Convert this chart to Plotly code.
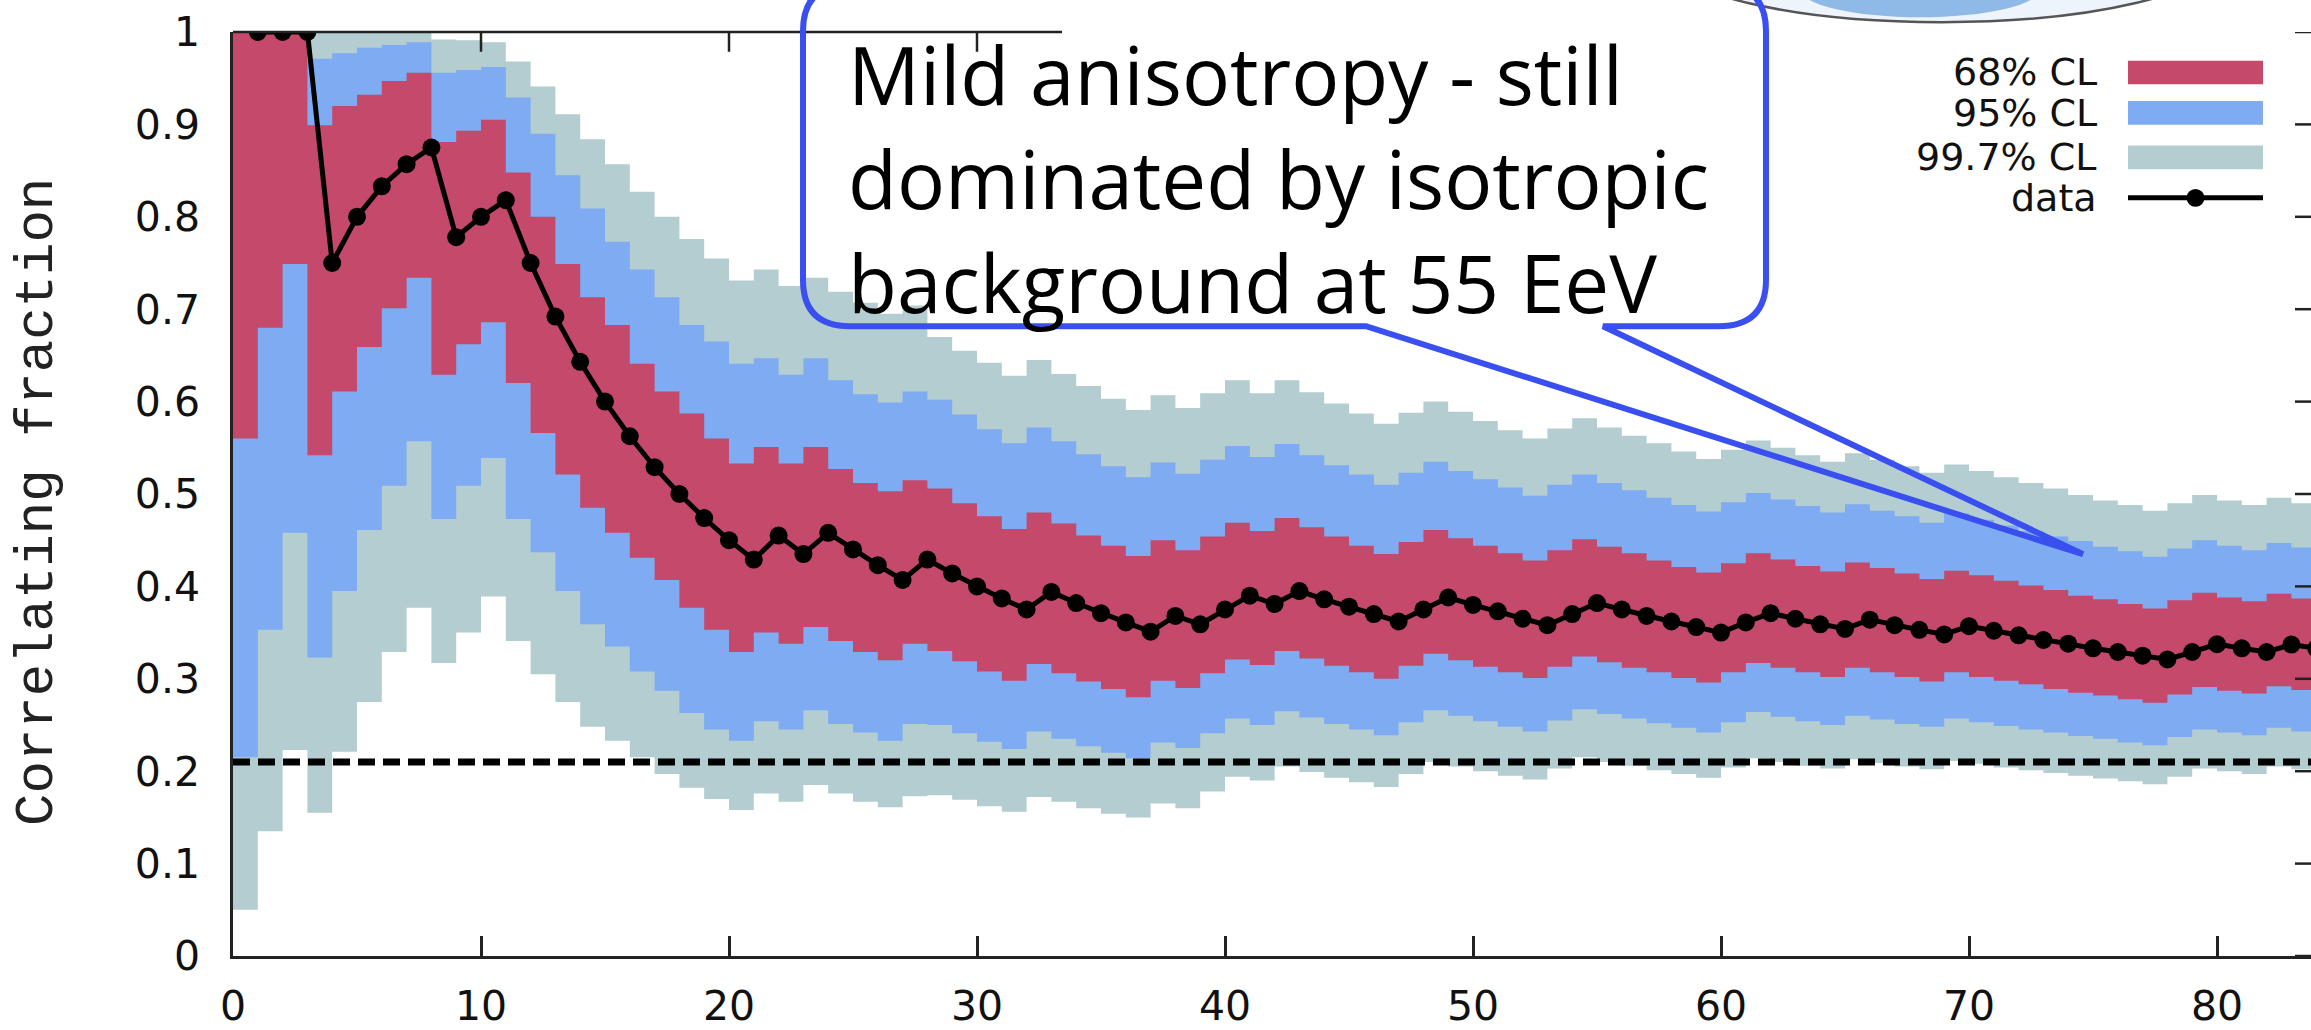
import plotly.graph_objects as go

# ---------------- data ----------------
N_EVENTS = list(range(1, 85))

DATA = [1.0, 1.0, 1.0, 0.75, 0.80, 0.833, 0.857, 0.875, 0.778, 0.80,
        0.818, 0.75, 0.692, 0.643, 0.60, 0.5625, 0.529, 0.50, 0.474, 0.45,
        0.429, 0.455, 0.435, 0.458, 0.44, 0.423, 0.407, 0.429, 0.414, 0.40,
        0.387, 0.375, 0.394, 0.382, 0.371, 0.361, 0.351, 0.368, 0.359, 0.375,
        0.39, 0.381, 0.395, 0.386, 0.378, 0.37, 0.362, 0.375, 0.388, 0.38,
        0.373, 0.365, 0.358, 0.37, 0.382, 0.375, 0.368, 0.362, 0.356, 0.35,
        0.361, 0.371, 0.365, 0.359, 0.354, 0.364, 0.358, 0.353, 0.348, 0.357,
        0.352, 0.347, 0.342, 0.338, 0.333, 0.329, 0.325, 0.321, 0.329, 0.3375,
        0.333, 0.329, 0.337, 0.333]

CL68_HI = [1.0, 1.0, 1.0, 0.899, 0.92, 0.932, 0.947, 0.956, 0.881, 0.893,
           0.905, 0.848, 0.80, 0.749, 0.713, 0.683, 0.641, 0.611, 0.587, 0.56,
           0.533, 0.551, 0.533, 0.551, 0.527, 0.512, 0.503, 0.515, 0.506, 0.490,
           0.476, 0.462, 0.480, 0.468, 0.455, 0.444, 0.433, 0.450, 0.439, 0.454,
           0.469, 0.460, 0.474, 0.464, 0.454, 0.444, 0.435, 0.448, 0.461, 0.452,
           0.444, 0.436, 0.428, 0.439, 0.451, 0.443, 0.436, 0.428, 0.421, 0.415,
           0.425, 0.436, 0.429, 0.422, 0.416, 0.426, 0.420, 0.414, 0.408, 0.417,
           0.412, 0.406, 0.401, 0.396, 0.390, 0.386, 0.381, 0.376, 0.385, 0.393,
           0.388, 0.384, 0.392, 0.387]
CL68_LO = [0.56, 0.68, 0.749, 0.542, 0.611, 0.659, 0.701, 0.734, 0.629, 0.662,
           0.686, 0.62, 0.566, 0.521, 0.485, 0.458, 0.431, 0.407, 0.377, 0.353,
           0.329, 0.35, 0.338, 0.356, 0.341, 0.329, 0.32, 0.338, 0.330, 0.319,
           0.308, 0.298, 0.316, 0.306, 0.297, 0.289, 0.280, 0.298, 0.290, 0.306,
           0.321, 0.315, 0.330, 0.322, 0.314, 0.307, 0.300, 0.314, 0.327, 0.320,
           0.313, 0.307, 0.301, 0.313, 0.324, 0.318, 0.312, 0.307, 0.301, 0.296,
           0.307, 0.317, 0.312, 0.307, 0.302, 0.312, 0.307, 0.302, 0.297, 0.307,
           0.302, 0.298, 0.294, 0.289, 0.285, 0.282, 0.278, 0.274, 0.283, 0.291,
           0.287, 0.284, 0.292, 0.288]

CL95_HI = [1.0, 1.0, 1.0, 0.971, 0.977, 0.983, 0.986, 0.989, 0.956, 0.959,
           0.962, 0.929, 0.89, 0.845, 0.809, 0.773, 0.743, 0.713, 0.683, 0.665,
           0.641, 0.647, 0.629, 0.647, 0.623, 0.608, 0.599, 0.611, 0.602, 0.586,
           0.570, 0.555, 0.572, 0.557, 0.543, 0.530, 0.518, 0.534, 0.522, 0.537,
           0.552, 0.540, 0.554, 0.542, 0.531, 0.521, 0.510, 0.523, 0.535, 0.525,
           0.516, 0.507, 0.498, 0.510, 0.521, 0.512, 0.504, 0.496, 0.488, 0.481,
           0.491, 0.501, 0.494, 0.487, 0.480, 0.489, 0.482, 0.476, 0.469, 0.479,
           0.472, 0.466, 0.460, 0.454, 0.449, 0.443, 0.438, 0.432, 0.441, 0.450,
           0.444, 0.439, 0.447, 0.442]
CL95_LO = [0.215, 0.353, 0.458, 0.323, 0.395, 0.461, 0.509, 0.557, 0.473, 0.509,
           0.539, 0.473, 0.437, 0.395, 0.359, 0.335, 0.308, 0.287, 0.263, 0.245,
           0.233, 0.254, 0.245, 0.266, 0.251, 0.242, 0.233, 0.251, 0.250, 0.241,
           0.232, 0.224, 0.243, 0.235, 0.227, 0.220, 0.214, 0.231, 0.225, 0.241,
           0.257, 0.250, 0.265, 0.258, 0.251, 0.245, 0.239, 0.253, 0.266, 0.260,
           0.254, 0.248, 0.243, 0.255, 0.267, 0.262, 0.257, 0.252, 0.247, 0.242,
           0.253, 0.264, 0.259, 0.254, 0.250, 0.260, 0.256, 0.251, 0.248, 0.257,
           0.253, 0.249, 0.245, 0.242, 0.238, 0.235, 0.231, 0.228, 0.237, 0.245,
           0.242, 0.239, 0.247, 0.243]

CL997_HI = [1.0, 1.0, 1.0, 1.0, 1.0, 1.0, 1.0, 1.0, 0.992, 0.991,
            0.989, 0.968, 0.941, 0.911, 0.884, 0.857, 0.827, 0.80, 0.776, 0.755,
            0.731, 0.743, 0.725, 0.734, 0.719, 0.707, 0.695, 0.704, 0.670, 0.655,
            0.642, 0.628, 0.645, 0.630, 0.617, 0.603, 0.591, 0.607, 0.593, 0.609,
            0.623, 0.609, 0.623, 0.610, 0.598, 0.587, 0.576, 0.588, 0.600, 0.589,
            0.579, 0.569, 0.560, 0.571, 0.582, 0.572, 0.563, 0.555, 0.546, 0.538,
            0.548, 0.558, 0.550, 0.542, 0.535, 0.544, 0.537, 0.530, 0.523, 0.532,
            0.525, 0.518, 0.512, 0.506, 0.499, 0.493, 0.488, 0.482, 0.490, 0.499,
            0.493, 0.488, 0.496, 0.490]
CL997_LO = [0.05, 0.135, 0.223, 0.155, 0.221, 0.275, 0.329, 0.377, 0.317, 0.35,
            0.389, 0.341, 0.305, 0.275, 0.248, 0.233, 0.215, 0.197, 0.182, 0.17,
            0.158, 0.176, 0.167, 0.185, 0.176, 0.167, 0.161, 0.173, 0.174, 0.169,
            0.162, 0.156, 0.172, 0.167, 0.160, 0.154, 0.150, 0.165, 0.160, 0.178,
            0.194, 0.190, 0.205, 0.199, 0.193, 0.188, 0.183, 0.197, 0.210, 0.205,
            0.200, 0.195, 0.191, 0.203, 0.215, 0.210, 0.206, 0.201, 0.197, 0.193,
            0.204, 0.214, 0.210, 0.206, 0.203, 0.213, 0.209, 0.205, 0.202, 0.211,
            0.208, 0.204, 0.201, 0.198, 0.195, 0.192, 0.189, 0.186, 0.194, 0.203,
            0.200, 0.197, 0.205, 0.202]

ISOTROPIC_FRACTION = 0.21

X_TICKS = [0, 10, 20, 30, 40, 50, 60, 70, 80]
TOP_TICKS = [10, 20, 30]
Y_TICKS = [0, 0.1, 0.2, 0.3, 0.4, 0.5, 0.6, 0.7, 0.8, 0.9, 1]
Y_TICK_TEXT = ["0", "0.1", "0.2", "0.3", "0.4", "0.5", "0.6", "0.7", "0.8", "0.9", "1"]

LEGEND_LABELS = ["68% CL", "95% CL", "99.7% CL", "data"]
CALLOUT_TEXT = ["Mild anisotropy - still", "dominated by isotropic", "background at 55 EeV"]
Y_TITLE = "Correlating fraction"

# ---------------- styles / geometry ----------------
W, H = 2311, 1030
ML, MR, MT, MB = 233, 0, 32, 62
PX_PER_UNIT = 24.8
XMAX = (W - ML - MR) / PX_PER_UNIT

C_RED = "#c5496b"
C_BLUE = "#7eabf2"
C_TEAL = "#b3cdd0"
C_CALLOUT = "#3a4ff0"
AXIS_FONT = "DejaVu Sans, Liberation Sans, Arial, sans-serif"
TICK_FONT = dict(family=AXIS_FONT, size=41, color="#111")


def px_x(px):
    return (px - ML) / (W - ML - MR)


def px_y(py):
    return (H - MB - py) / (H - MT - MB)


edges = [0] + N_EVENTS


def steps(vals):
    return list(vals) + [vals[-1]]


fig = go.Figure()

for lo, hi, col in [(CL997_LO, CL997_HI, C_TEAL),
                    (CL95_LO, CL95_HI, C_BLUE),
                    (CL68_LO, CL68_HI, C_RED)]:
    fig.add_trace(go.Scatter(x=edges, y=steps(lo), mode="lines", line=dict(width=0, shape="hv", color=col),
                             showlegend=False, hoverinfo="skip"))
    fig.add_trace(go.Scatter(x=edges, y=steps(hi), mode="lines", line=dict(width=0, shape="hv", color=col),
                             fill="tonexty", fillcolor=col, showlegend=False, hoverinfo="skip"))

fig.add_trace(go.Scatter(x=N_EVENTS, y=DATA, mode="lines+markers",
                         line=dict(color="black", width=5),
                         marker=dict(color="black", size=18),
                         showlegend=False))

shapes = []
# isotropic expectation (dashed)
shapes.append(dict(type="line", xref="paper", yref="y", x0=0, x1=1,
                   y0=ISOTROPIC_FRACTION, y1=ISOTROPIC_FRACTION,
                   line=dict(color="black", width=7, dash="17px,8px")))
# partial top border and its ticks
shapes.append(dict(type="line", xref="paper", yref="paper", x0=0, x1=px_x(1062), y0=1, y1=1,
                   line=dict(color="#222", width=2.5)))
for t in TOP_TICKS:
    shapes.append(dict(type="line", xref="x", yref="paper", x0=t, x1=t, y0=1, y1=px_y(MT + 20),
                       line=dict(color="#222", width=2.5)))
# right-side ticks
for v in Y_TICKS:
    shapes.append(dict(type="line", xref="paper", yref="y", x0=px_x(W - 16), x1=1, y0=v, y1=v,
                       line=dict(color="#222", width=2.5)))

# fragment of the sky-map picture pasted at the top right of the slide
shapes.append(dict(type="circle", xref="paper", yref="paper",
                   x0=px_x(1668), x1=px_x(2216), y0=px_y(22), y1=px_y(-110),
                   line=dict(color="#555", width=2.5), fillcolor="#eef4fb"))
shapes.append(dict(type="circle", xref="paper", yref="paper",
                   x0=px_x(1800), x1=px_x(2040), y0=px_y(17), y1=px_y(-40),
                   line=dict(width=0), fillcolor="#8fb9e6"))

# callout balloon
cx0, cx1, cy0, cy1, r = 803, 1766, -16, 330, 47
pa, pb, tip = 1366, 1603, (2083, 561)


def P(px, py):
    return f"{px_x(px):.5f},{px_y(py):.5f}"


path = (f"M{P(pa, cy1)} L{P(cx0 + r, cy1)} Q{P(cx0, cy1)} {P(cx0, cy1 - r)} "
        f"L{P(cx0, cy0 + r)} Q{P(cx0, cy0)} {P(cx0 + r, cy0)} "
        f"L{P(cx1 - r, cy0)} Q{P(cx1, cy0)} {P(cx1, cy0 + r)} "
        f"L{P(cx1, cy1 - r)} Q{P(cx1, cy1)} {P(cx1 - r, cy1)} "
        f"L{P(pb, cy1)} L{P(*tip)} Z")
shapes.append(dict(type="path", xref="paper", yref="paper", path=path,
                   line=dict(color=C_CALLOUT, width=6), fillcolor="rgba(0,0,0,0)"))

# manual legend (text left, sample right, gnuplot style)
leg_rows = [73, 114, 159, 200]
sw_x0, sw_x1 = 2128, 2263
for row, col in zip(leg_rows[:3], [C_RED, C_BLUE, C_TEAL]):
    shapes.append(dict(type="rect", xref="paper", yref="paper",
                       x0=px_x(sw_x0), x1=px_x(sw_x1), y0=px_y(row - 12), y1=px_y(row + 12),
                       line=dict(width=0), fillcolor=col))
shapes.append(dict(type="line", xref="paper", yref="paper", x0=px_x(sw_x0), x1=px_x(sw_x1),
                   y0=px_y(leg_rows[3]), y1=px_y(leg_rows[3]), line=dict(color="black", width=5)))
mx = (sw_x0 + sw_x1) / 2
shapes.append(dict(type="circle", xref="paper", yref="paper",
                   x0=px_x(mx - 9), x1=px_x(mx + 9), y0=px_y(leg_rows[3] - 9), y1=px_y(leg_rows[3] + 9),
                   line=dict(width=0), fillcolor="black"))

annotations = []
for row, lab in zip(leg_rows, LEGEND_LABELS):
    annotations.append(dict(xref="paper", yref="paper", x=px_x(2099), y=px_y(row),
                            xanchor="right", yanchor="middle", showarrow=False, text=lab,
                            font=dict(family=AXIS_FONT, size=38, color="#111")))
annotations.append(dict(xref="paper", yref="paper", x=px_x(846), y=px_y(17),
                        xanchor="left", yanchor="top", align="left", showarrow=False,
                        text="<br>".join(CALLOUT_TEXT),
                        font=dict(family="Open Sans, sans-serif", size=80, color="black")))
annotations.append(dict(xref="paper", yref="paper", x=px_x(38), y=px_y(508),
                        xanchor="center", yanchor="middle", showarrow=False, textangle=-90,
                        text=Y_TITLE,
                        font=dict(family="Liberation Mono, Courier New, monospace", size=54, color="#222")))

fig.update_layout(
    width=W, height=H,
    margin=dict(l=ML, r=MR, t=MT, b=MB, pad=0),
    paper_bgcolor="white", plot_bgcolor="white",
    shapes=shapes, annotations=annotations,
    showlegend=False,
)
fig.update_xaxes(range=[0, XMAX], tickvals=X_TICKS, ticks="inside", ticklen=20, tickwidth=2.5,
                 tickcolor="#222", showline=True, linecolor="#222", linewidth=2.5,
                 showgrid=False, zeroline=False, tickfont=TICK_FONT, ticklabelstandoff=12)
fig.update_yaxes(range=[0, 1], tickvals=Y_TICKS, ticktext=Y_TICK_TEXT, ticks="",
                 showline=True, linecolor="#222", linewidth=2.5,
                 showgrid=False, zeroline=False, tickfont=TICK_FONT, ticklabelstandoff=22)

fig.write_html("out.html")
